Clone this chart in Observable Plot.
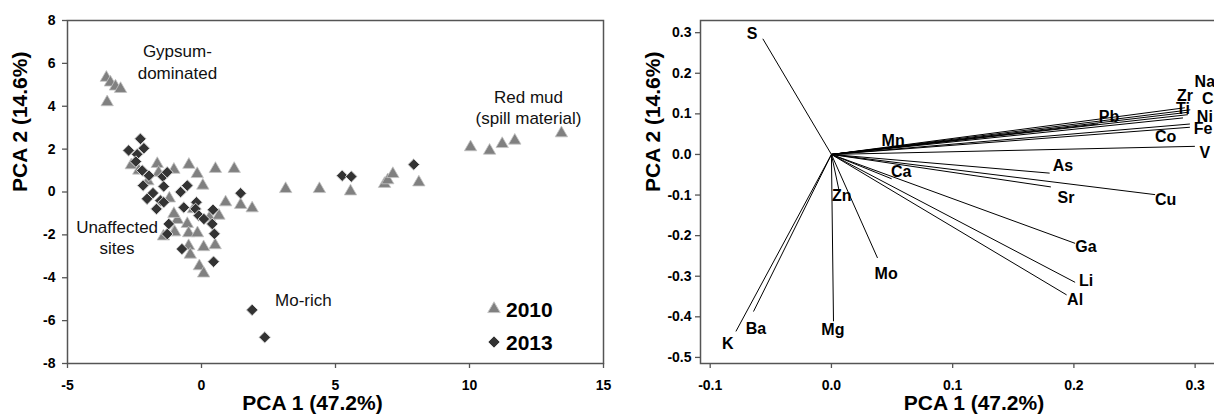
<!DOCTYPE html>
<html>
<head>
<meta charset="utf-8">
<script src="https://cdn.jsdelivr.net/npm/d3@7"></script>
<script src="https://cdn.jsdelivr.net/npm/@observablehq/plot@0.6"></script>
<style>
  html, body { margin: 0; padding: 0; background: #fff; }
  body { width: 1214px; height: 417px; overflow: hidden; position: relative; font-family: "Liberation Sans", Arial, sans-serif; }
  #left, #right, #legend { position: absolute; top: 0; width: 640px; height: 417px; }
  #left { left: 0; }
  #right { left: 640px; }
  #legend { left: 0; pointer-events: none; }
  svg { max-width: none !important; }
  svg g[aria-label$="tick label"] { font-size: 14px !important; font-weight: bold !important; }
</style>
</head>
<body>
<div id="left"></div>
<div id="right"></div>
<svg id="legend" width="640" height="417"></svg>
<script>
// ---------- Left panel: PCA scores ----------
const scores2010 = [
  [-3.55,5.33],[-3.40,5.11],[-3.21,4.92],[-3.02,4.81],[-3.52,4.19],
  [-2.62,1.25],[-2.34,1.00],[-1.65,1.31],[-1.03,1.04],[-0.47,1.27],[-0.16,0.84],[0.05,0.30],[0.52,1.08],[1.22,1.08],
  [-1.60,0.90],[-2.00,0.50],[-1.20,-0.30],[-0.30,-0.80],[0.30,-1.20],[-0.90,-1.30],
  [0.90,-0.48],[1.46,-0.60],[1.89,-0.76],[-1.03,-1.02],[0.65,-1.10],[-0.53,-1.49],
  [-1.03,-1.88],[-1.42,-2.07],[-1.00,-1.87],[-0.48,-1.92],[-0.15,-1.92],
  [-0.48,-2.52],[0.08,-2.57],[0.51,-2.48],[-0.42,-2.92],[-0.08,-3.46],[0.08,-3.80],
  [3.14,0.14],[4.40,0.14],[5.56,0.03],[6.83,0.38],[6.95,0.55],[7.14,0.84],[8.11,0.45],
  [10.04,2.09],[10.75,1.93],[11.22,2.24],[11.69,2.40],[13.43,2.74]
];
const scores2013 = [
  [-2.28,2.48],[-2.72,1.94],[-2.40,1.76],[-2.15,2.04],[-2.45,1.42],[-2.21,1.00],[-1.96,0.76],[-1.44,0.72],[-1.28,0.92],
  [-2.18,0.30],[-1.81,-0.05],[-1.41,0.26],[-2.03,-0.32],[-1.53,-0.40],[-1.41,-0.48],[-1.68,-0.79],
  [-0.78,0.00],[-0.53,0.30],[-0.66,-0.72],[-0.19,-0.48],[-0.22,-0.79],[-0.10,-1.10],[0.09,-1.26],[0.43,-0.83],[0.40,-1.49],
  [1.46,-0.06],[-1.22,-1.49],[-1.28,-1.96],[0.48,-1.95],[-0.73,-2.66],[0.45,-3.25],
  [5.25,0.76],[5.59,0.72],[7.92,1.28],[1.89,-5.50],[2.36,-6.78]
];
const scoreXTicks = [-5, 0, 5, 10, 15];
const scoreYTicks = [-8, -6, -4, -2, 0, 2, 4, 6, 8];
const groupNames = ["Gypsum-\ndominated", "Red mud\n(spill material)", "Unaffected\nsites", "Mo-rich"];
const groupX = [-0.9, 12.2, -3.15, 3.8];
const groupY = [6.1, 3.99, -2.07, -4.99];
const legendYears = ["2010", "2013"];

// ---------- Right panel: loadings ----------
const elements = ["S","Mn","Ca","Zn","Mo","Mg","K","Ba","Ga","Li","Al","As","Sr","Cu","Pb","Zr","Ti","Na","Cr","Ni","Fe","Co","V"];
const loadX = [-0.0566,0.080,0.0497,0.006,0.038,0.0017,-0.0788,-0.0643,0.201,0.201,0.194,0.180,0.181,0.267,0.220,0.2915,0.2943,0.296,0.294,0.290,0.2957,0.2957,0.2998];
const loadY = [0.285,0.027,-0.060,-0.085,-0.255,-0.411,-0.436,-0.387,-0.219,-0.315,-0.346,-0.046,-0.080,-0.099,0.075,0.115,0.104,0.110,0.098,0.090,0.075,0.067,0.020];
const labelX = [-0.0654,0.0509,0.0575,0.0086,0.0451,0.0012,-0.0854,-0.0623,0.210,0.210,0.201,0.191,0.1935,0.2757,0.2289,0.2916,0.290,0.308,0.313,0.308,0.3066,0.2757,0.308];
const labelY = [0.298,0.0328,-0.0437,-0.101,-0.294,-0.432,-0.467,-0.430,-0.227,-0.311,-0.358,-0.027,-0.108,-0.111,0.092,0.144,0.113,0.178,0.136,0.092,0.0634,0.0427,0.0042];
const loadXTicks = [-0.1, 0.0, 0.1, 0.2, 0.3];
const loadYTicks = [-0.5, -0.4, -0.3, -0.2, -0.1, 0.0, 0.1, 0.2, 0.3];

const xTitle = "PCA 1 (47.2%)";
const yTitle = "PCA 2 (14.6%)";

const FONT = "'Liberation Sans', Arial, sans-serif";
const AX = "#555";

const loadings = elements.map((name, i) => ({name, x: loadX[i], y: loadY[i], lx: labelX[i], ly: labelY[i]}));
const groups = groupNames.map((t, i) => ({t, x: groupX[i], y: groupY[i]}));

const left = Plot.plot({
  width: 640, height: 417,
  marginLeft: 67, marginRight: 37, marginTop: 20, marginBottom: 54,
  style: {fontFamily: FONT, fontSize: "14px", fontWeight: "bold", color: "#000", background: "#fff", overflow: "visible"},
  x: {domain: [-5, 15]},
  y: {domain: [-8, 8]},
  marks: [
    Plot.axisX({ticks: scoreXTicks, tickSize: 5, tickPadding: 12, stroke: AX, strokeWidth: 1.3, label: null, fontSize: 14, fontWeight: "bold", tickFormat: d => String(d)}),
    Plot.axisY({ticks: scoreYTicks, tickSize: 5, tickPadding: 7, stroke: AX, strokeWidth: 1.3, label: null, fontSize: 14, fontWeight: "bold", tickFormat: d => String(d)}),
    Plot.dot(scores2010, {x: d => d[0], y: d => d[1], symbol: "triangle", r: 4.6, fill: "#808080", stroke: "#c4c4c4", strokeWidth: 0.8}),
    Plot.dot(scores2013, {x: d => d[0], y: d => d[1], symbol: "diamond2", r: 5.2, fill: "#333", stroke: "#d8d8d8", strokeWidth: 1}),
    Plot.text(groups, {x: "x", y: "y", text: "t", fontSize: 17, fontWeight: "normal", lineHeight: 1.25, fill: "#111"}),
    Plot.frame({stroke: AX, strokeWidth: 1.5}),
    Plot.text([xTitle], {frameAnchor: "bottom", dy: 46, dx: -23, fontSize: 21, fontWeight: "bold"}),
    Plot.text([yTitle], {frameAnchor: "left", dx: -47, rotate: -90, fontSize: 21, fontWeight: "bold"})
  ]
});
document.getElementById("left").appendChild(left);

const right = Plot.plot({
  width: 640, height: 417,
  marginLeft: 60, marginRight: 49, marginTop: 20, marginBottom: 54,
  style: {fontFamily: FONT, fontSize: "14px", fontWeight: "bold", color: "#000", background: "#fff", overflow: "visible"},
  x: {domain: [-0.108, 0.33]},
  y: {domain: [-0.515, 0.33]},
  marks: [
    Plot.axisX({ticks: loadXTicks, tickSize: 5, tickPadding: 12, stroke: AX, strokeWidth: 1.3, label: null, fontSize: 14, fontWeight: "bold", tickFormat: d => d.toFixed(1)}),
    Plot.axisY({ticks: loadYTicks, tickSize: 5, tickPadding: 4, stroke: AX, strokeWidth: 1.3, label: null, fontSize: 14, fontWeight: "bold", tickFormat: d => d.toFixed(1)}),
    Plot.link(loadings, {x1: d => 0, y1: d => 0, x2: "x", y2: "y", stroke: "#000", strokeWidth: 1}),
    Plot.text(loadings, {x: "lx", y: "ly", text: "name", fontSize: 16, fontWeight: "bold", fill: "#000"}),
    Plot.frame({stroke: AX, strokeWidth: 1.5}),
    Plot.text([xTitle], {frameAnchor: "bottom", dy: 46, dx: 8, fontSize: 21, fontWeight: "bold"}),
    Plot.text([yTitle], {frameAnchor: "left", dx: -47, rotate: -90, fontSize: 21, fontWeight: "bold"})
  ]
});
document.getElementById("right").appendChild(right);

// ---------- Legend (inside left panel) ----------
const lg = d3.select("#legend");
const symbols = [d3.symbol(d3.symbolTriangle, 67), d3.symbol(d3.symbolDiamond2, 92)];
const fills = ["#808080", "#333"];
const strokes = ["#c4c4c4", "#d8d8d8"];
legendYears.forEach((yr, i) => {
  const cy = 309 + i * 33;
  lg.append("path").attr("d", symbols[i]()).attr("transform", `translate(494,${cy})`)
    .attr("fill", fills[i]).attr("stroke", strokes[i]).attr("stroke-width", 1);
  lg.append("text").attr("x", 506).attr("y", cy).attr("dy", "0.36em")
    .attr("font-family", FONT).attr("font-size", 21).attr("font-weight", "bold").attr("fill", "#000").text(yr);
});
</script>
</body>
</html>
